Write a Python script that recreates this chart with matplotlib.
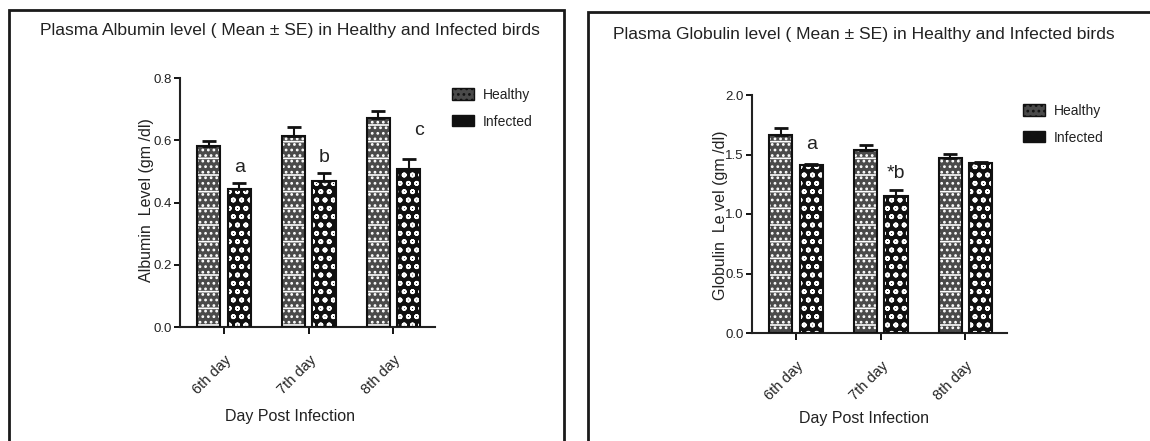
import matplotlib
matplotlib.use("Agg")
import matplotlib.pyplot as plt
from matplotlib.patches import Rectangle, Patch
import numpy as np

plt.rcParams['font.family'] = ['Liberation Sans', 'DejaVu Sans']
plt.rcParams['hatch.linewidth'] = 1.2

days = ["6th day", "7th day", "8th day"]
series = ["Healthy", "Infected"]

alb_healthy = [0.58, 0.614, 0.672]
alb_healthy_se = [0.018, 0.03, 0.023]
alb_infected = [0.442, 0.468, 0.508]
alb_infected_se = [0.021, 0.027, 0.032]
alb_letters = ["a", "b", "c"]

glo_healthy = [1.668, 1.536, 1.471]
glo_healthy_se = [0.056, 0.048, 0.03]
glo_infected = [1.409, 1.148, 1.429]
glo_infected_se = [0.014, 0.05, 0.008]
glo_letters = ["a", "*b", ""]

TXT = '#222222'
H_FACE = '#4a4a4a'
I_FACE = '#101010'
H_HATCH = '...-'
I_HATCH = 'oo'
fig = plt.figure(figsize=(11.5, 4.41), dpi=100)

# panel borders
for (x0, y0, x1, y1) in [(9, 10, 564, 445), (588, 12, 1152, 445)]:
    fig.patches.append(Rectangle((x0 / 1150, 1 - y1 / 441), (x1 - x0) / 1150, (y1 - y0) / 441,
                                 transform=fig.transFigure, fill=False, edgecolor='#1a1a1a',
                                 linewidth=2.0))


def panel(rect, healthy, hse, infected, ise, letters, ylim, yticks, ylabel, ylabel_y, title, title_xy,
          xlabel_xy, ylabel_x, leg_xy, letter_pad, letter_dx):
    ax = fig.add_axes(rect)
    x = np.arange(len(days))
    w = 0.275
    off = 0.18
    # Healthy
    ax.bar(x - off, healthy, w, color=H_FACE, edgecolor='white', hatch=H_HATCH, linewidth=0, zorder=2)
    ax.bar(x - off, healthy, w, fill=False, edgecolor='#111111', linewidth=1.5, zorder=3)
    # Infected
    ax.bar(x + off, infected, w, color=I_FACE, edgecolor='white', hatch=I_HATCH, linewidth=0, zorder=2)
    ax.bar(x + off, infected, w, fill=False, edgecolor='#111111', linewidth=1.5, zorder=3)
    ax.errorbar(x - off, healthy, yerr=[np.zeros(len(x)), hse], fmt='none', ecolor='#111111',
                elinewidth=1.5, capsize=5, capthick=2, zorder=4)
    ax.errorbar(x + off, infected, yerr=[np.zeros(len(x)), ise], fmt='none', ecolor='#111111',
                elinewidth=1.5, capsize=5, capthick=2, zorder=4)
    for i, lab in enumerate(letters):
        if lab:
            ax.annotate(lab, (x[i] + off + letter_dx[i], infected[i] + ise[i]), xytext=(0, letter_pad[i]),
                        textcoords='offset points', ha='center', va='bottom', fontsize=14, color=TXT)
    ax.set_xlim(-0.52, 2.49)
    ax.set_ylim(*ylim)
    ax.set_yticks(yticks)
    ax.set_yticklabels([f"{t:.1f}" for t in yticks], fontsize=9.5, color=TXT)
    ax.set_xticks(x)
    ax.set_xticklabels(days, rotation=45, ha='right', rotation_mode='anchor', fontsize=10.5, color=TXT)
    ax.tick_params(axis='x', length=5, width=1.3, pad=14, direction='out')
    ax.tick_params(axis='y', length=4, width=1.3, pad=2, direction='out')
    for s in ['top', 'right']:
        ax.spines[s].set_visible(False)
    for s in ['left', 'bottom']:
        ax.spines[s].set_linewidth(1.5)
        ax.spines[s].set_color('#222222')
    fig.text(ylabel_x / 1150, 1 - ylabel_y / 441, ylabel,
             rotation=90, ha='center', va='center', fontsize=11.5, color=TXT)
    fig.text(title_xy[0] / 1150, 1 - title_xy[1] / 441, title, ha='center', va='center',
             fontsize=12.6, color=TXT)
    fig.text(xlabel_xy[0] / 1150, 1 - xlabel_xy[1] / 441, "Day Post Infection", ha='center',
             va='center', fontsize=11.5, color=TXT)
    handles = [Patch(facecolor=H_FACE, edgecolor='#111111', hatch='...'),
               Patch(facecolor=I_FACE, edgecolor='#111111', hatch=I_HATCH)]
    leg = fig.legend(handles, series, loc='upper left',
                     bbox_to_anchor=(leg_xy[0] / 1150, 1 - leg_xy[1] / 441), frameon=False,
                     fontsize=10, handlelength=1.6, handleheight=0.9, labelspacing=0.9,
                     handletextpad=0.6, borderaxespad=0, borderpad=0)
    for t in leg.get_texts():
        t.set_color(TXT)
    return ax


panel([180 / 1150, 1 - 327 / 441, 255 / 1150, 249 / 441], alb_healthy, alb_healthy_se,
      alb_infected, alb_infected_se, alb_letters, (0, 0.8), [0.0, 0.2, 0.4, 0.6, 0.8],
      "Albumin  Level (gm /dl)", 200,
      "Plasma Albumin level ( Mean \u00b1 SE) in Healthy and Infected birds", (290, 31), (290, 417),
      146, (452, 88), [5, 5, 14], [0, 0, 0.12])

panel([752 / 1150, 1 - 333 / 441, 255 / 1150, 238 / 441], glo_healthy, glo_healthy_se,
      glo_infected, glo_infected_se, glo_letters, (0, 2.0), [0.0, 0.5, 1.0, 1.5, 2.0],
      "Globulin  Le vel (gm /dl)", 215,
      "Plasma Globulin level ( Mean \u00b1 SE) in Healthy and Infected birds", (864, 35), (864, 418),
      720, (1023, 104), [8, 6, 0], [0, 0, 0])

fig.savefig("out.png", dpi=100)
